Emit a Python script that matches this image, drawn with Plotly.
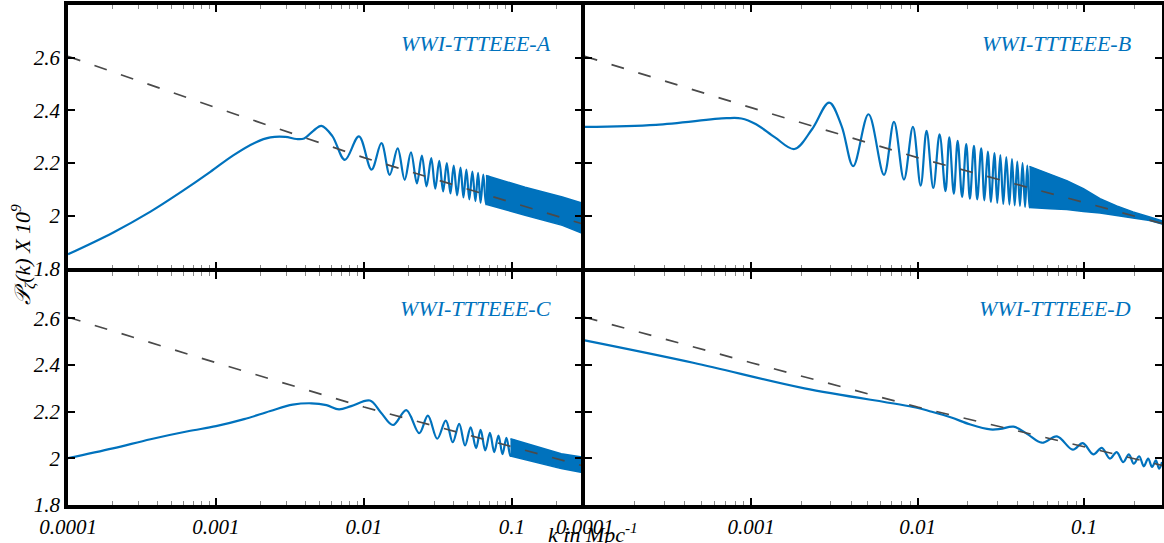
import plotly.graph_objects as go

# ---------------- data ----------------
x_tick_vals = [1e-4, 1e-3, 1e-2, 1e-1]
x_tick_text = ["0.0001", "0.001", "0.01", "0.1"]
y_tick_vals = [1.8, 2.0, 2.2, 2.4, 2.6]
y_tick_text = ["1.8", "2", "2.2", "2.4", "2.6"]
panel_names = ["WWI-TTTEEE-A", "WWI-TTTEEE-B", "WWI-TTTEEE-C", "WWI-TTTEEE-D"]

# power-law reference (dashed)
dash_k = [1e-4, 1e-3, 1e-2, 1e-1, 0.294]
dash_P = [2.605, 2.41, 2.22, 2.05, 1.97]

# Panel A : resolved part
A_k = [1.0e-4, 2.01e-4, 3.61e-4, 5.75e-4, 9.16e-4, 1.30e-3, 1.85e-3, 2.33e-3, 2.94e-3,
       3.50e-3, 3.94e-3, 4.55e-3, 5.16e-3, 6.10e-3, 7.43e-3, 9.24e-3, 1.125e-2, 1.312e-2,
       1.493e-2, 1.690e-2, 1.884e-2, 2.077e-2, 2.279e-2, 2.461e-2, 2.647e-2, 2.849e-2,
       3.033e-2, 3.225e-2, 3.428e-2, 3.628e-2, 3.84e-2, 4.04e-2, 4.26e-2, 4.49e-2, 4.70e-2,
       4.92e-2, 5.15e-2, 5.40e-2, 5.66e-2, 5.90e-2, 6.14e-2, 6.40e-2, 6.67e-2, 6.92e-2]
A_P = [1.853, 1.935, 2.015, 2.088, 2.166, 2.228, 2.278, 2.297, 2.299,
       2.291, 2.293, 2.322, 2.341, 2.303, 2.212, 2.301, 2.175, 2.275,
       2.155, 2.255, 2.136, 2.240, 2.122, 2.228, 2.111, 2.218,
       2.102, 2.208, 2.092, 2.199, 2.084, 2.190, 2.077, 2.182, 2.069,
       2.175, 2.062, 2.167, 2.055, 2.162, 2.049, 2.156, 2.043, 2.152]
# Panel A : unresolved (dense) oscillation envelope
A_band_k = [6.67e-2, 1.227e-1, 2.19e-1, 2.94e-1]
A_band_hi = [2.152, 2.108, 2.071, 2.049]
A_band_lo = [2.043, 2.001, 1.963, 1.934]

# Panel B
B_k = [1.0e-4, 2.68e-4, 7.11e-4, 8.73e-4, 1.07e-3, 1.39e-3, 1.82e-3, 2.32e-3, 2.94e-3,
       3.49e-3, 4.10e-3, 5.07e-3, 6.28e-3, 7.21e-3, 8.28e-3, 9.37e-3, 1.043e-2, 1.132e-2,
       1.242e-2, 1.355e-2, 1.47e-2, 1.55e-2, 1.65e-2, 1.74e-2, 1.85e-2, 1.96e-2, 2.06e-2,
       2.18e-2, 2.28e-2, 2.41e-2, 2.52e-2, 2.64e-2, 2.76e-2, 2.89e-2, 3.01e-2, 3.14e-2,
       3.27e-2, 3.41e-2, 3.56e-2, 3.69e-2, 3.83e-2, 3.97e-2, 4.12e-2, 4.27e-2, 4.42e-2,
       4.56e-2, 4.70e-2, 4.86e-2]
B_P = [2.337, 2.345, 2.370, 2.369, 2.347, 2.297, 2.253, 2.328, 2.429,
       2.341, 2.188, 2.385, 2.155, 2.356, 2.137, 2.337, 2.114, 2.322,
       2.105, 2.309, 2.093, 2.297, 2.083, 2.284, 2.071, 2.272, 2.064,
       2.265, 2.062, 2.255, 2.058, 2.243, 2.052, 2.237, 2.048, 2.230,
       2.044, 2.222, 2.042, 2.215, 2.039, 2.205, 2.037, 2.199, 2.033,
       2.190, 2.031, 2.184]
B_band_k = [4.70e-2, 6.25e-2, 7.87e-2, 9.91e-2, 1.248e-1, 1.57e-1, 1.97e-1, 2.48e-1, 2.94e-1]
B_band_hi = [2.187, 2.158, 2.133, 2.102, 2.064, 2.037, 2.014, 1.995, 1.980]
B_band_lo = [2.031, 2.026, 2.023, 2.016, 2.010, 2.001, 1.991, 1.981, 1.968]

# Panel C
C_k = [1.0e-4, 2.01e-4, 3.61e-4, 6.46e-4, 1.0e-3, 1.55e-3, 2.33e-3, 3.30e-3, 4.42e-3,
       5.58e-3, 6.78e-3, 8.2e-3, 1.096e-2, 1.30e-2, 1.571e-2, 1.932e-2, 2.364e-2, 2.703e-2,
       3.127e-2, 3.572e-2, 3.98e-2, 4.40e-2, 4.82e-2, 5.26e-2, 5.72e-2, 6.14e-2, 6.60e-2,
       7.10e-2, 7.59e-2, 8.11e-2, 8.63e-2, 9.18e-2, 9.77e-2, 1.035e-1]
C_P = [2.001, 2.043, 2.082, 2.116, 2.138, 2.168, 2.203, 2.230, 2.236,
       2.228, 2.210, 2.224, 2.248, 2.197, 2.143, 2.207, 2.108, 2.183,
       2.084, 2.162, 2.069, 2.148, 2.055, 2.133, 2.044, 2.122, 2.034,
       2.109, 2.027, 2.098, 2.018, 2.088, 2.010, 2.080]
C_band_k = [9.77e-2, 1.286e-1, 1.664e-1, 2.153e-1, 2.94e-1]
C_band_hi = [2.084, 2.062, 2.041, 2.020, 2.006]
C_band_lo = [2.010, 1.991, 1.973, 1.956, 1.940]

# Panel D
D_k = [1.0e-4, 4.48e-4, 2.09e-3, 9.75e-3, 1.197e-2, 1.577e-2, 2.077e-2, 2.735e-2, 3.14e-2,
       3.77e-2, 4.54e-2, 5.58e-2, 6.87e-2, 8.56e-2, 9.82e-2, 1.137e-1, 1.277e-1, 1.432e-1,
       1.57e-1, 1.719e-1, 1.859e-1, 1.99e-1, 2.143e-1, 2.286e-1, 2.426e-1, 2.564e-1,
       2.70e-1, 2.825e-1, 2.94e-1]
D_P = [2.506, 2.410, 2.300, 2.218, 2.201, 2.176, 2.145, 2.124, 2.126,
       2.136, 2.105, 2.067, 2.094, 2.037, 2.065, 2.017, 2.045, 1.999,
       2.027, 1.984, 2.017, 1.977, 2.009, 1.966, 1.999, 1.963,
       1.991, 1.956, 1.984]

# ---------------- figure ----------------
W, H = 1164, 543
BLUE = "#0072BD"
FONT = "Liberation Serif"
LW = 3.5

minor_x_ticks = [m * 10.0 ** e for e in range(-4, 0) for m in range(2, 10) if m * 10.0 ** e < 0.294]

def fx(p):
    return p / W

def fy(p):
    return 1 - p / H

fig = go.Figure()

panels = [
    (A_k, A_P, A_band_k, A_band_hi, A_band_lo, "x", "y"),
    (B_k, B_P, B_band_k, B_band_hi, B_band_lo, "x2", "y2"),
    (C_k, C_P, C_band_k, C_band_hi, C_band_lo, "x3", "y3"),
    (D_k, D_P, None, None, None, "x4", "y4"),
]

for k, P, bk, bhi, blo, xa, ya in panels:
    if bk is not None:
        fig.add_trace(go.Scatter(
            x=list(bk) + list(bk)[::-1], y=list(bhi) + list(blo)[::-1],
            mode="lines", fill="toself", fillcolor=BLUE,
            line=dict(color=BLUE, width=1.5), xaxis=xa, yaxis=ya,
            hoverinfo="skip"))
    fig.add_trace(go.Scatter(
        x=k, y=P, mode="lines", line=dict(color=BLUE, width=2.2, shape="spline", smoothing=1),
        xaxis=xa, yaxis=ya))
    fig.add_trace(go.Scatter(
        x=dash_k, y=dash_P, mode="lines",
        line=dict(color="#4a4a4a", width=1.7, dash="13px,15px"),
        xaxis=xa, yaxis=ya))

h = LW / 2
left_x = [fx(68), fx(583 - h)]
right_x = [fx(583 + h), fx(1162)]
top_y = [fy(270 - h), fy(5)]
bot_y = [fy(505), fy(270 + h)]

tickfont = dict(family=FONT, size=21, color="black", style="italic")

def xaxis(domain, anchor, labels):
    return dict(
        type="log", range=[-4, -0.5317], domain=domain, anchor=anchor, automargin=False,
        tickmode="array", tickvals=x_tick_vals, ticktext=x_tick_text,
        showticklabels=labels, ticks="inside", ticklen=7, tickwidth=1.5, tickcolor="black",
        showline=True, linewidth=LW, linecolor="black", mirror="allticks",
        showgrid=False, zeroline=False, tickfont=tickfont,
        minor=dict(tickmode="array", tickvals=minor_x_ticks, ticks="inside", ticklen=4,
                   tickcolor="#8a8a8a", tickwidth=1, showgrid=False),
    )

def yaxis(domain, anchor, labels):
    return dict(
        range=[1.8, 2.8], domain=domain, anchor=anchor, automargin=False,
        tickmode="array", tickvals=y_tick_vals, ticktext=y_tick_text,
        showticklabels=labels, ticks="inside", ticklen=7, tickwidth=1.5, tickcolor="black",
        showline=True, linewidth=LW, linecolor="black", mirror="allticks",
        showgrid=False, zeroline=False, tickfont=tickfont,
    )

fig.update_layout(
    width=W, height=H, margin=dict(l=0, r=0, t=0, b=0, autoexpand=False),
    paper_bgcolor="white", plot_bgcolor="white", showlegend=False,
    xaxis=xaxis(left_x, "y", False),
    yaxis=yaxis(top_y, "x", True),
    xaxis2=xaxis(right_x, "y2", False),
    yaxis2=yaxis(top_y, "x2", False),
    xaxis3=xaxis(left_x, "y3", True),
    yaxis3=yaxis(bot_y, "x3", True),
    xaxis4=xaxis(right_x, "y4", True),
    yaxis4=yaxis(bot_y, "x4", False),
)

name_pos = [(553, 43), (1133, 43), (553, 308), (1133, 308)]
for name, (px, py) in zip(panel_names, name_pos):
    fig.add_annotation(x=fx(px), y=fy(py), xref="paper", yref="paper", text=name,
                       showarrow=False, xanchor="right", yanchor="middle",
                       font=dict(family=FONT, size=22, color=BLUE, style="italic"))

fig.add_annotation(x=fx(22), y=fy(255), xref="paper", yref="paper",
                   text="𝒫<sub>ζ</sub>(k) X 10<sup>9</sup>", textangle=-90, showarrow=False,
                   xanchor="center", yanchor="middle",
                   font=dict(family=FONT, size=22, color="black", style="italic"))
fig.add_annotation(x=fx(593), y=fy(533), xref="paper", yref="paper",
                   text="k in Mpc<sup>-1</sup>", showarrow=False,
                   xanchor="center", yanchor="middle",
                   font=dict(family=FONT, size=22, color="black", style="italic"))

fig.write_html("out.html", config={"displayModeBar": False},
               post_script="document.body.style.margin='0';document.body.style.overflow='hidden';")
